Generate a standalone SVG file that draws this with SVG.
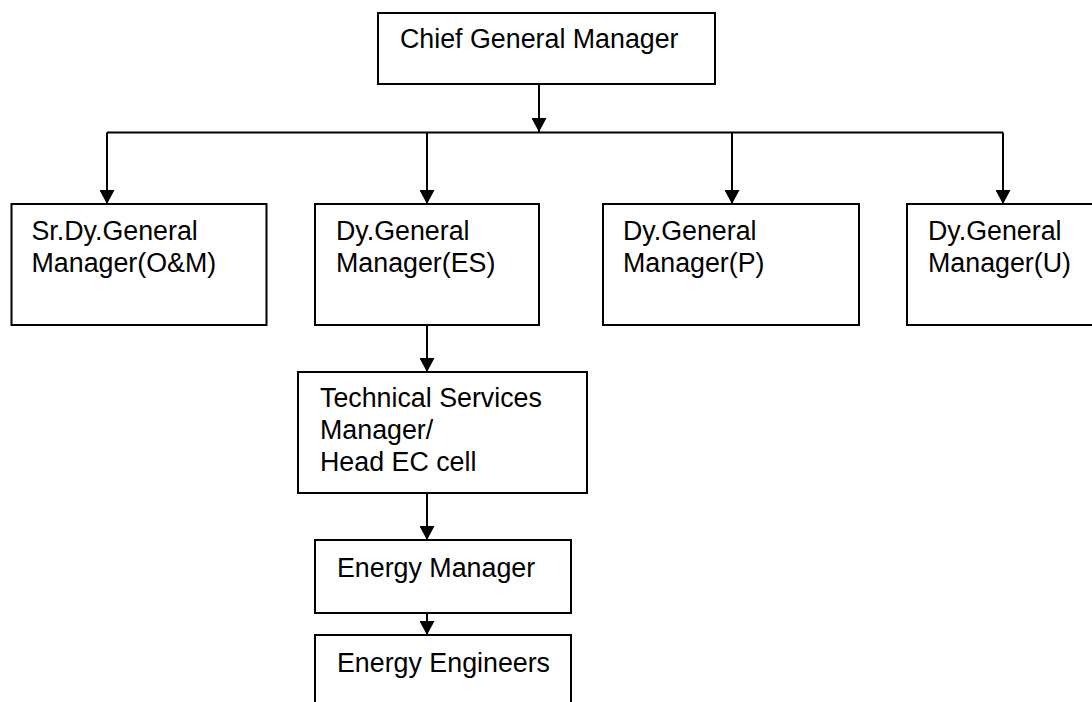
<svg xmlns="http://www.w3.org/2000/svg" width="1092" height="702" viewBox="0 0 1092 702">
<style>
.box{fill:#fff;stroke:#000;stroke-width:2}
.t{font-family:"Liberation Sans",Arial,sans-serif;font-size:26.8px;fill:#000}
.c{fill:none;stroke:#000;stroke-width:2}
</style>
<defs>
<marker id="ah" markerUnits="userSpaceOnUse" markerWidth="16" markerHeight="15" refX="15" refY="8" orient="auto" viewBox="0 0 15 16">
<path d="M0,0 L15,8 L0,16 Z" fill="#000"/>
</marker>
</defs>
<rect width="1092" height="702" fill="#fff"/>
<g id="connectors">
<path class="c" d="M539,84 V132" marker-end="url(#ah)"/>
<path class="c" d="M107,132.5 H1003"/>
<path class="c" d="M107,132.5 V204" marker-end="url(#ah)"/>
<path class="c" d="M427,132.5 V204" marker-end="url(#ah)"/>
<path class="c" d="M732,132.5 V204" marker-end="url(#ah)"/>
<path class="c" d="M1003,132.5 V204" marker-end="url(#ah)"/>
<path class="c" d="M427,325 V372" marker-end="url(#ah)"/>
<path class="c" d="M427,493 V540" marker-end="url(#ah)"/>
<path class="c" d="M427,613 V635" marker-end="url(#ah)"/>
</g>
<g id="chief">
<rect class="box" x="378" y="13" width="337" height="71"/>
<text class="t" x="400" y="48">Chief General Manager</text>
</g>
<g id="srdgm">
<rect class="box" x="11.5" y="204" width="255" height="121"/>
<text class="t" x="31.5" y="240">Sr.Dy.General</text>
<text class="t" x="31.5" y="272">Manager(O&amp;M)</text>
</g>
<g id="dgm-es">
<rect class="box" x="315" y="204" width="224" height="121"/>
<text class="t" x="336" y="240">Dy.General</text>
<text class="t" x="336" y="272">Manager(ES)</text>
</g>
<g id="dgm-p">
<rect class="box" x="603" y="204" width="256" height="121"/>
<text class="t" x="623" y="240">Dy.General</text>
<text class="t" x="623" y="272">Manager(P)</text>
</g>
<g id="dgm-u">
<rect class="box" x="907" y="204" width="200" height="121"/>
<text class="t" x="928" y="240">Dy.General</text>
<text class="t" x="928" y="272">Manager(U)</text>
</g>
<g id="tsm">
<rect class="box" x="298" y="372" width="289" height="121"/>
<text class="t" x="320" y="407">Technical Services</text>
<text class="t" x="320" y="439">Manager/</text>
<text class="t" x="320" y="471">Head EC cell</text>
</g>
<g id="em">
<rect class="box" x="315" y="540" width="256" height="73"/>
<text class="t" x="337" y="577">Energy Manager</text>
</g>
<g id="ee">
<rect class="box" x="315" y="635" width="256" height="90"/>
<text class="t" x="337" y="672">Energy Engineers</text>
</g>
</svg>
